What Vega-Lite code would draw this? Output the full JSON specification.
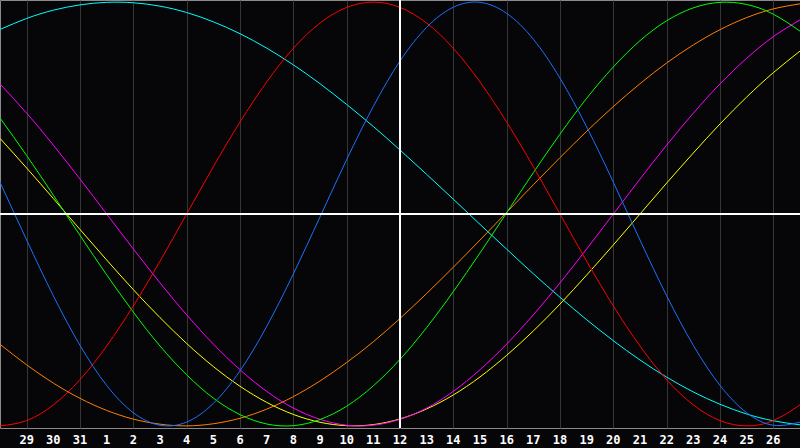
{
  "$schema": "https://vega.github.io/schema/vega-lite/v6.json",
  "width": 800,
  "height": 428,
  "autosize": {"type": "none"},
  "padding": {"left": 0, "top": 0, "right": 0, "bottom": 20},
  "background": "#060609",
  "data": {
    "values": [
      {"t": 0, "day": "", "Physical": 0.150, "Emotional": -1.000, "Intellectual": 0.453, "Intuitive": 0.614, "Aesthetic": 0.357, "Awareness": -0.615, "Spiritual": 0.871},
      {"t": 1, "day": "29", "Physical": -0.123, "Emotional": -0.975, "Intellectual": 0.276, "Intuitive": 0.476, "Aesthetic": 0.217, "Awareness": -0.712, "Spiritual": 0.923},
      {"t": 2, "day": "30", "Physical": -0.386, "Emotional": -0.901, "Intellectual": 0.089, "Intuitive": 0.325, "Aesthetic": 0.073, "Awareness": -0.798, "Spiritual": 0.962},
      {"t": 3, "day": "31", "Physical": -0.620, "Emotional": -0.782, "Intellectual": -0.101, "Intuitive": 0.165, "Aesthetic": -0.073, "Awareness": -0.870, "Spiritual": 0.987},
      {"t": 4, "day": "1", "Physical": -0.809, "Emotional": -0.623, "Intellectual": -0.287, "Intuitive": 0.000, "Aesthetic": -0.217, "Awareness": -0.927, "Spiritual": 0.999},
      {"t": 5, "day": "2", "Physical": -0.938, "Emotional": -0.434, "Intellectual": -0.463, "Intuitive": -0.165, "Aesthetic": -0.357, "Awareness": -0.968, "Spiritual": 0.997},
      {"t": 6, "day": "3", "Physical": -0.997, "Emotional": -0.223, "Intellectual": -0.623, "Intuitive": -0.325, "Aesthetic": -0.489, "Awareness": -0.992, "Spiritual": 0.981},
      {"t": 7, "day": "4", "Physical": -0.982, "Emotional": 0.000, "Intellectual": -0.759, "Intuitive": -0.476, "Aesthetic": -0.611, "Awareness": -1.000, "Spiritual": 0.951},
      {"t": 8, "day": "5", "Physical": -0.894, "Emotional": 0.223, "Intellectual": -0.869, "Intuitive": -0.614, "Aesthetic": -0.720, "Awareness": -0.990, "Spiritual": 0.907},
      {"t": 9, "day": "6", "Physical": -0.740, "Emotional": 0.434, "Intellectual": -0.947, "Intuitive": -0.735, "Aesthetic": -0.813, "Awareness": -0.964, "Spiritual": 0.851},
      {"t": 10, "day": "7", "Physical": -0.531, "Emotional": 0.623, "Intellectual": -0.991, "Intuitive": -0.837, "Aesthetic": -0.889, "Awareness": -0.921, "Spiritual": 0.783},
      {"t": 11, "day": "8", "Physical": -0.283, "Emotional": 0.782, "Intellectual": -0.999, "Intuitive": -0.916, "Aesthetic": -0.946, "Awareness": -0.862, "Spiritual": 0.704},
      {"t": 12, "day": "9", "Physical": -0.014, "Emotional": 0.901, "Intellectual": -0.970, "Intuitive": -0.969, "Aesthetic": -0.983, "Awareness": -0.788, "Spiritual": 0.615},
      {"t": 13, "day": "10", "Physical": 0.257, "Emotional": 0.975, "Intellectual": -0.907, "Intuitive": -0.997, "Aesthetic": -0.999, "Awareness": -0.701, "Spiritual": 0.517},
      {"t": 14, "day": "11", "Physical": 0.508, "Emotional": 1.000, "Intellectual": -0.811, "Intuitive": -0.997, "Aesthetic": -0.994, "Awareness": -0.603, "Spiritual": 0.413},
      {"t": 15, "day": "12", "Physical": 0.722, "Emotional": 0.975, "Intellectual": -0.686, "Intuitive": -0.969, "Aesthetic": -0.967, "Awareness": -0.493, "Spiritual": 0.302},
      {"t": 16, "day": "13", "Physical": 0.881, "Emotional": 0.901, "Intellectual": -0.536, "Intuitive": -0.916, "Aesthetic": -0.920, "Awareness": -0.375, "Spiritual": 0.187},
      {"t": 17, "day": "14", "Physical": 0.976, "Emotional": 0.782, "Intellectual": -0.366, "Intuitive": -0.837, "Aesthetic": -0.854, "Awareness": -0.251, "Spiritual": 0.070},
      {"t": 18, "day": "15", "Physical": 0.999, "Emotional": 0.623, "Intellectual": -0.184, "Intuitive": -0.735, "Aesthetic": -0.769, "Awareness": -0.123, "Spiritual": -0.049},
      {"t": 19, "day": "16", "Physical": 0.947, "Emotional": 0.434, "Intellectual": 0.006, "Intuitive": -0.614, "Aesthetic": -0.667, "Awareness": 0.008, "Spiritual": -0.166},
      {"t": 20, "day": "17", "Physical": 0.825, "Emotional": 0.223, "Intellectual": 0.195, "Intuitive": -0.476, "Aesthetic": -0.552, "Awareness": 0.138, "Spiritual": -0.282},
      {"t": 21, "day": "18", "Physical": 0.641, "Emotional": 0.000, "Intellectual": 0.377, "Intuitive": -0.325, "Aesthetic": -0.425, "Awareness": 0.266, "Spiritual": -0.393},
      {"t": 22, "day": "19", "Physical": 0.411, "Emotional": -0.223, "Intellectual": 0.546, "Intuitive": -0.165, "Aesthetic": -0.288, "Awareness": 0.390, "Spiritual": -0.499},
      {"t": 23, "day": "20", "Physical": 0.150, "Emotional": -0.434, "Intellectual": 0.694, "Intuitive": 0.000, "Aesthetic": -0.146, "Awareness": 0.507, "Spiritual": -0.598},
      {"t": 24, "day": "21", "Physical": -0.123, "Emotional": -0.623, "Intellectual": 0.818, "Intuitive": 0.165, "Aesthetic": 0.000, "Awareness": 0.615, "Spiritual": -0.689},
      {"t": 25, "day": "22", "Physical": -0.386, "Emotional": -0.782, "Intellectual": 0.912, "Intuitive": 0.325, "Aesthetic": 0.146, "Awareness": 0.713, "Spiritual": -0.770},
      {"t": 26, "day": "23", "Physical": -0.620, "Emotional": -0.901, "Intellectual": 0.973, "Intuitive": 0.476, "Aesthetic": 0.288, "Awareness": 0.798, "Spiritual": -0.840},
      {"t": 27, "day": "24", "Physical": -0.809, "Emotional": -0.975, "Intellectual": 0.999, "Intuitive": 0.614, "Aesthetic": 0.425, "Awareness": 0.870, "Spiritual": -0.898},
      {"t": 28, "day": "25", "Physical": -0.938, "Emotional": -1.000, "Intellectual": 0.989, "Intuitive": 0.735, "Aesthetic": 0.552, "Awareness": 0.927, "Spiritual": -0.944},
      {"t": 29, "day": "26", "Physical": -0.997, "Emotional": -0.975, "Intellectual": 0.943, "Intuitive": 0.837, "Aesthetic": 0.667, "Awareness": 0.968, "Spiritual": -0.976},
      {"t": 30, "day": "", "Physical": -0.982, "Emotional": -0.901, "Intellectual": 0.863, "Intuitive": 0.916, "Aesthetic": 0.769, "Awareness": 0.992, "Spiritual": -0.995}
    ]
  },
  "layer": [
    {
      "transform": [
        {"fold": ["Spiritual", "Awareness", "Aesthetic", "Intuitive", "Intellectual", "Emotional", "Physical"], "as": ["cycle", "value"]}
      ],
      "mark": {"type": "line", "strokeWidth": 1, "interpolate": "natural", "clip": true},
      "encoding": {
        "x": {
          "field": "t",
          "type": "quantitative",
          "scale": {"domain": [0, 30], "nice": false, "zero": false},
          "axis": {
            "title": null,
            "values": [1, 2, 3, 4, 5, 6, 7, 8, 9, 10, 11, 12, 13, 14, 15, 16, 17, 18, 19, 20, 21, 22, 23, 24, 25, 26, 27, 28, 29],
            "grid": true,
            "gridColor": "#363636",
            "gridWidth": 1,
            "domain": false,
            "ticks": false,
            "labels": false
          }
        },
        "y": {
          "field": "value",
          "type": "quantitative",
          "scale": {"domain": [-1.01, 1.01], "nice": false, "zero": false},
          "axis": null
        },
        "color": {
          "field": "cycle",
          "type": "nominal",
          "scale": {
            "domain": ["Physical", "Emotional", "Intellectual", "Intuitive", "Aesthetic", "Awareness", "Spiritual"],
            "range": ["#1a72ff", "#ff0000", "#00ff00", "#ff00ff", "#ffff00", "#ff8000", "#00ffff"]
          },
          "legend": null
        }
      }
    },
    {
      "mark": {"type": "rule", "color": "#ffffff", "strokeWidth": 1},
      "encoding": {"y": {"datum": 0}}
    },
    {
      "mark": {"type": "rule", "color": "#ffffff", "strokeWidth": 1},
      "encoding": {"x": {"datum": 15}}
    },
    {
      "transform": [{"filter": "datum.day != ''"}],
      "mark": {
        "type": "text",
        "color": "#ffffff",
        "font": "DejaVu Sans Mono",
        "fontWeight": "bold",
        "fontSize": 12,
        "baseline": "middle",
        "align": "center",
        "clip": false
      },
      "encoding": {
        "x": {"field": "t", "type": "quantitative"},
        "y": {"datum": -1.065},
        "text": {"field": "day"}
      }
    }
  ],
  "config": {
    "view": {"stroke": "#8a8a8a", "strokeWidth": 1, "fill": "#060609"}
  }
}
